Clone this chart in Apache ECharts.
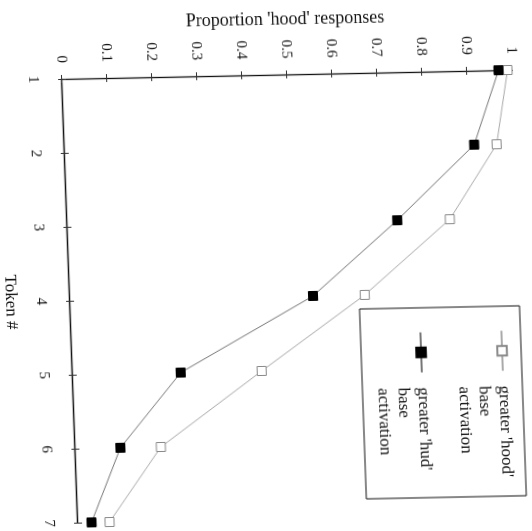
<!DOCTYPE html>
<html><head><meta charset="utf-8">
<script src="https://cdn.jsdelivr.net/npm/echarts@6/dist/echarts.min.js"></script>
<style>
html,body{margin:0;padding:0;background:#fff;overflow:hidden;width:532px;height:531px;}
#wrap{position:absolute;left:0;top:0;width:550px;height:550px;transform-origin:0 0;
transform:matrix(0.036,1,-1,0.02,529.16,-9.4);}
</style></head><body><div id="wrap"></div>
<script>
// data read from the (rotated, scanned) reference
const tokens = [1, 2, 3, 4, 5, 6, 7];
const hoodValues = [0.99, 0.96, 0.85, 0.655, 0.42, 0.19, 0.07];
const hudValues = [0.97, 0.91, 0.733, 0.54, 0.24, 0.10, 0.03];
const valueTickLabels = ['0','0.1','0.2','0.3','0.4','0.5','0.6','0.7','0.8','0.9','1'];
const tokenTickLabels = ['1','2','3','4','5','6','7'];
const seriesNames = ["greater 'hood'\nbase\nactivation", "greater 'hud'\nbase\nactivation"];
const xName = 'Token #';
const yName = "Proportion 'hood' responses";

const FONT = 'Liberation Serif';
const chart = echarts.init(document.getElementById('wrap'), null, {renderer:'canvas'});
const pairs = vals => tokens.map((t, i) => [t, vals[i]]);

const tokenAxisBase = {type:'value', min:1, max:7, interval:1, gridIndex:0, position:'bottom', splitLine:{show:false}};
const valueAxisBase = {type:'value', min:0, max:1, interval:0.1, gridIndex:0, position:'left', splitLine:{show:false}};

chart.setOption({
  backgroundColor:'#fff',
  animation:false,
  grid:{left:79, top:20, width:444, height:450, containLabel:false, outerBoundsMode:'none'},
  xAxis:[
    Object.assign({}, tokenAxisBase, {
      axisLine:{show:true, onZero:false, lineStyle:{color:'#111', width:1.3}},
      axisTick:{show:true, inside:false, length:4, lineStyle:{color:'#333', width:1}},
      axisLabel:{margin:22, fontSize:15, fontFamily:FONT, color:'#111',
        formatter:v => tokenTickLabels[Math.round(v) - 1]},
      name:xName, nameLocation:'middle', nameGap:51,
      nameTextStyle:{fontSize:17, fontFamily:FONT, color:'#111'}
    }),
    Object.assign({}, tokenAxisBase, {
      axisLine:{show:false}, axisLabel:{show:false},
      axisTick:{show:true, inside:true, length:4, lineStyle:{color:'#333', width:1}}
    })
  ],
  yAxis:[
    Object.assign({}, valueAxisBase, {
      axisLine:{show:true, onZero:false, lineStyle:{color:'#111', width:1.3}},
      axisTick:{show:true, inside:false, length:4, lineStyle:{color:'#333', width:1}},
      axisLabel:{margin:16, fontSize:15, fontFamily:FONT, color:'#111',
        formatter:v => valueTickLabels[Math.round(v * 10)]},
      name:yName, nameLocation:'middle', nameGap:46,
      nameTextStyle:{fontSize:18, fontFamily:FONT, color:'#111'}
    }),
    Object.assign({}, valueAxisBase, {
      axisLine:{show:false}, axisLabel:{show:false},
      axisTick:{show:true, inside:true, length:4, lineStyle:{color:'#333', width:1}}
    })
  ],
  legend:{
    orient:'vertical', left:338.6, top:-10, padding:0,
    itemWidth:40, itemHeight:12, itemGap:-19,
    formatter: name => '\n\n' + name,
    textStyle:{fontSize:17, fontFamily:FONT, color:'#111', lineHeight:20, padding:[0,0,0,10]},
    data:seriesNames
  },
  graphic:[{
    type:'rect', shape:{x:315, y:21, width:190, height:160},
    style:{fill:'none', stroke:'#111', lineWidth:1}, z:10
  }],
  series:[
    {
      name:seriesNames[0], type:'line', xAxisIndex:0, yAxisIndex:0,
      data:pairs(hoodValues), symbol:'rect', symbolSize:9,
      lineStyle:{color:'#aaa', width:1},
      itemStyle:{color:'#fff', borderColor:'#888', borderWidth:1},
      z:3
    },
    {
      name:seriesNames[1], type:'line', xAxisIndex:0, yAxisIndex:0,
      data:pairs(hudValues), symbol:'rect', symbolSize:9,
      lineStyle:{color:'#777', width:1},
      itemStyle:{color:'#000', borderColor:'#000', borderWidth:1},
      z:4
    }
  ]
});
</script></body></html>
